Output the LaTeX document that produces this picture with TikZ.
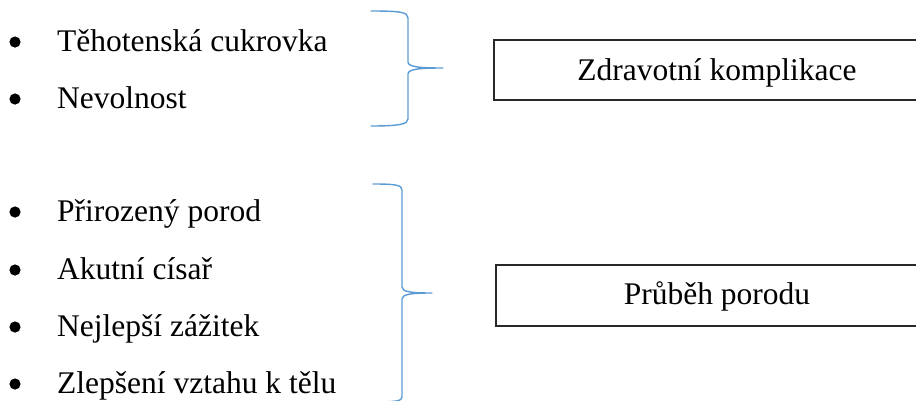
\documentclass[tikz,border=0pt]{standalone}
\usepackage{fontspec}
\setmainfont{Liberation Serif}
\definecolor{braceblue}{RGB}{91,155,213}
\definecolor{boxline}{RGB}{40,40,40}
\tikzset{
  item/.style={anchor=base west, inner sep=0pt, font=\fontsize{31.5}{38}\selectfont},
  bulletdot/.style={fill=black, draw=none},
  bracepath/.style={draw=braceblue, line width=1.4pt, line cap=round, line join=round},
  labelbox/.style={draw=boxline, line width=1.3pt},
  boxtext/.style={anchor=base, inner sep=0pt, font=\fontsize{31.5}{38}\selectfont},
}
\begin{document}
\begin{tikzpicture}[x=1pt, y=-1pt]
\useasboundingbox (0,0) rectangle (916,400);
% top list
\foreach \yy/\name/\txt in {51/a1/{Těhotenská cukrovka}, 108/a2/{Nevolnost}} {
  \fill[bulletdot] (15,\yy-9) circle[radius=5.6pt];
  \node[item] (\name) at (57,\yy) {\txt};
}
% bottom list
\foreach \yy/\name/\txt in {221/b1/{Přirozený porod}, 279/b2/{Akutní císař}, 336/b3/{Nejlepší zážitek}, 393/b4/{Zlepšení vztahu k tělu}} {
  \fill[bulletdot] (15,\yy-9) circle[radius=5.6pt];
  \node[item] (\name) at (57,\yy) {\txt};
}
% braces
\coordinate (tip1) at (443,68);
\draw[bracepath] (371,11) .. controls (400,11) and (408,12) .. (408,18)
  -- (408,62) .. controls (408,67) and (420,68) .. (tip1)
  .. controls (420,68) and (408,69) .. (408,74)
  -- (408,119) .. controls (408,124) and (400,126) .. (371,126);
\coordinate (tip2) at (432,293);
\draw[bracepath] (373,184) .. controls (396,184) and (402,185) .. (402,190)
  -- (402,287) .. controls (402,292) and (412,293) .. (tip2)
  .. controls (412,293) and (402,294) .. (402,299)
  -- (402,397) .. controls (402,401) and (396,402) .. (373,402);
% boxes
\draw[labelbox] (494,40) rectangle (940,100);
\node[boxtext] (z) at (717,80) {Zdravotní komplikace};
\draw[labelbox] (496,265) rectangle (940,326);
\node[boxtext] (p) at (717,304) {Průběh porodu};
\end{tikzpicture}
\end{document}
